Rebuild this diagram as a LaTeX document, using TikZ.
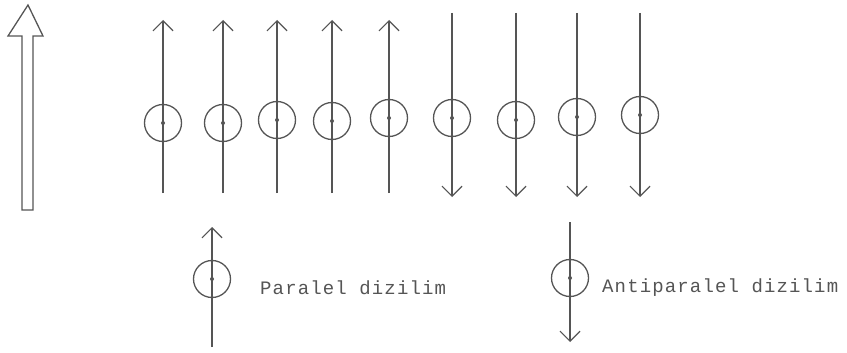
\documentclass[tikz,border=0pt]{standalone}
\usepackage{fontspec}
\newfontfamily\typew[LetterSpace=6]{Liberation Mono}
\usetikzlibrary{arrows.meta}
\definecolor{ink}{HTML}{555555}
\begin{document}
\begin{tikzpicture}[x=1pt,y=-1pt,
  spin/.style={circle,draw=ink,line width=1.3pt,minimum size=37pt,inner sep=0pt},
  fieldline/.style={draw=ink,line width=1.2pt,-{Straight Barb[length=10pt,width=20pt]}},
  lbl/.style={anchor=west,text=ink,font=\typew\fontsize{19}{19}\selectfont,inner sep=0pt},
  dotc/.style={fill=ink}]
\useasboundingbox (0,0) rectangle (847,353);
% big hollow arrow
\draw[ink,line width=1.3pt,line join=miter] (22,210) -- (22,36) -- (8,36) -- (28,5) -- (43,36) -- (33,36) -- (33,210) -- cycle;
% parallel spins (up)
\foreach \i/\x/\y in {1/163/123,2/223/123,3/277/120,4/332/121,5/389/118}{
  \node[spin] (u\i) at (\x,\y) {};
  \fill[dotc] (u\i.center) circle (2pt);
  \coordinate (ub\i) at (\x,193);
  \coordinate (ut\i) at (\x,20);
  \draw[fieldline] (ub\i) -- (ut\i);
}
% antiparallel spins (down)
\foreach \i/\x/\y in {1/452/118,2/516/120,3/577/117,4/640/115}{
  \node[spin] (d\i) at (\x,\y) {};
  \fill[dotc] (d\i.center) circle (2pt);
  \coordinate (dt\i) at (\x,13);
  \coordinate (db\i) at (\x,197);
  \draw[fieldline] (dt\i) -- (db\i);
}
% legend
\node[spin] (pl) at (212,279) {};
\fill[dotc] (pl.center) circle (2pt);
\coordinate (plb) at (212,347);
\coordinate (plt) at (212,227);
\draw[fieldline] (plb) -- (plt);
\node[lbl] (plt1) at (260,288) {Paralel dizilim};
\node[spin] (al) at (570,278) {};
\fill[dotc] (al.center) circle (2pt);
\coordinate (alt) at (570,222);
\coordinate (alb) at (570,342);
\draw[fieldline] (alt) -- (alb);
\node[lbl] (alt1) at (602,288) {Antiparalel dizilim};
\end{tikzpicture}
\end{document}
